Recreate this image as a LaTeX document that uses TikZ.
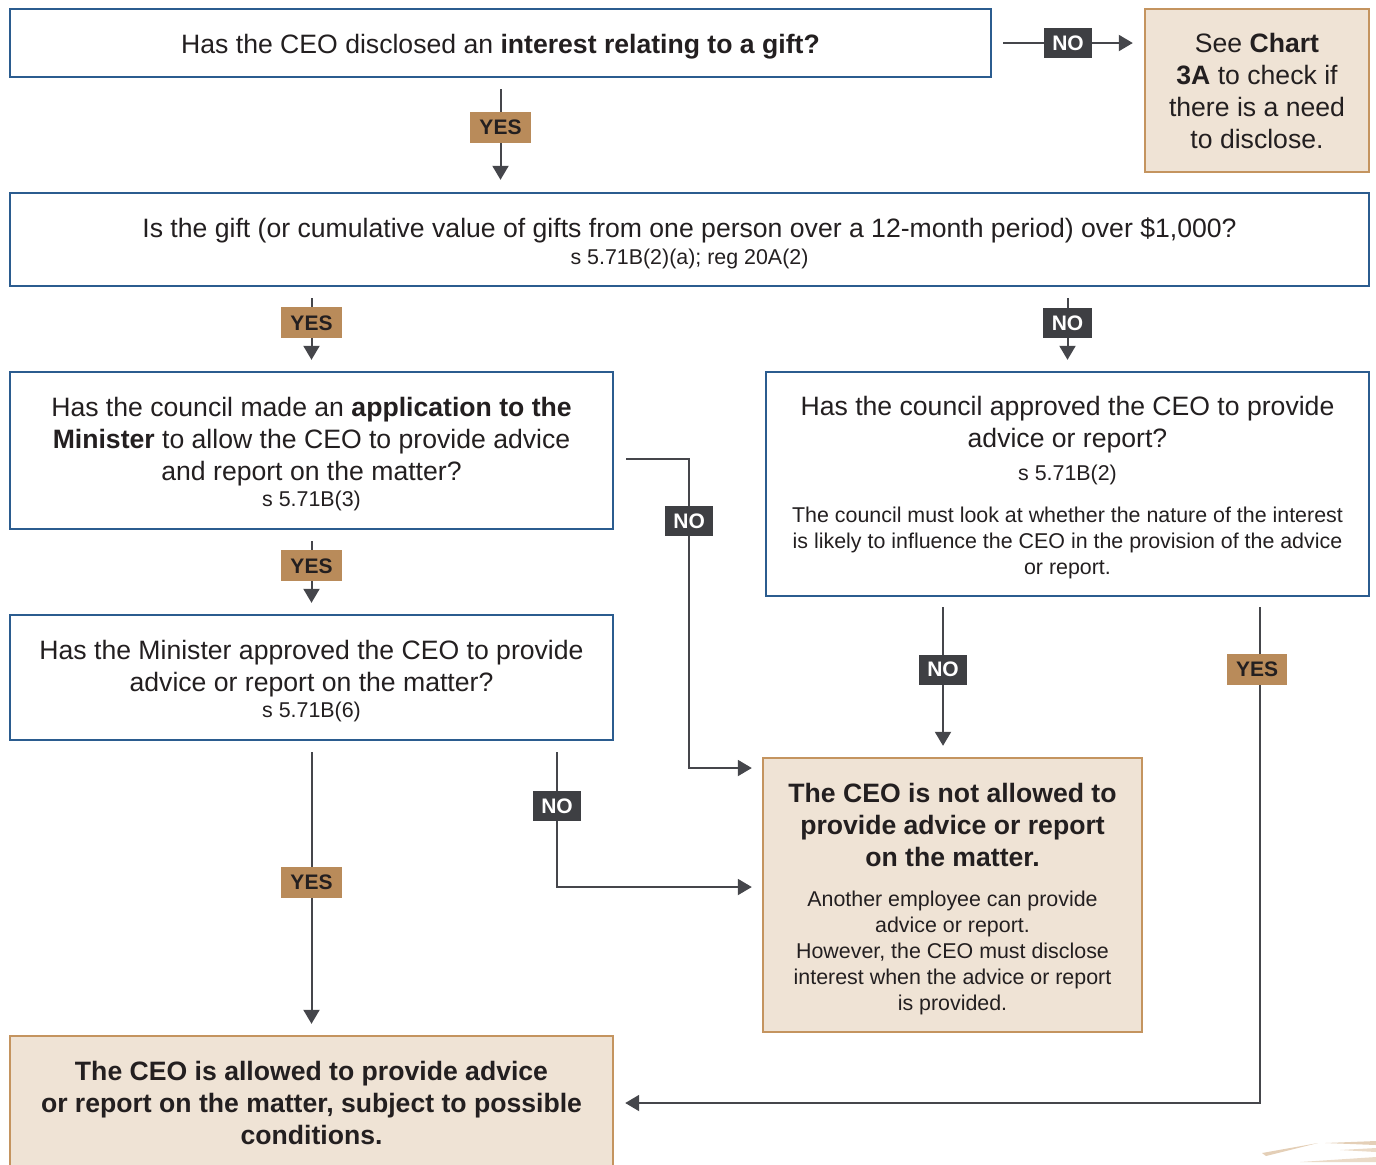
\documentclass[tikz,border=0pt]{standalone}
\usepackage{fontspec}
\setmainfont{Liberation Sans}
\usepackage{tikz}
\usetikzlibrary{arrows.meta,calc}

\definecolor{qblue}{HTML}{2B5C8F}
\definecolor{tanfill}{HTML}{EFE3D5}
\definecolor{tanline}{HTML}{C4945F}
\definecolor{yesfill}{HTML}{B98B5A}
\definecolor{nofill}{HTML}{3E3F43}
\definecolor{flowgray}{HTML}{45464B}
\definecolor{inktext}{HTML}{231F20}

\newcommand{\mainsz}{\fontsize{13.3}{16}\selectfont}
\newcommand{\notesz}{\fontsize{10.7}{13}\selectfont}
\newcommand{\topstrut}{\rule{0pt}{13.5pt}}

\begin{document}
\begin{tikzpicture}[x=0.5pt, y=-0.5pt,
    question/.style={draw=qblue, line width=1.2pt, fill=white, align=center, inner sep=0pt, text=inktext, font=\mainsz},
    outcome/.style={draw=tanline, line width=1.2pt, fill=tanfill, align=center, inner sep=0pt, text=inktext, font=\mainsz},
    flow/.style={draw=flowgray, line width=1pt, -{Triangle[width=8pt,length=7pt]}},
    yeslbl/.style={fill=yesfill, text=inktext, font=\fontsize{10.5}{12}\bfseries, inner xsep=4.5pt, inner ysep=0pt, minimum height=15.5pt},
    nolbl/.style={fill=nofill, text=white, font=\fontsize{10.5}{12}\bfseries, inner xsep=4.25pt, inner ysep=0pt, minimum height=15pt}]
    \useasboundingbox (0,0) rectangle (1376,1164);

    % questions
    \node[question, minimum width=490.5pt, minimum height=34pt] (q1) at (500.5,43) {\topstrut Has the CEO disclosed an \textbf{interest relating to a gift?}};
    \node[outcome, minimum width=112pt, minimum height=81.5pt] (chart) at (1257,90.5) {See \textbf{Chart}\\\textbf{3A} to check if\\there is a need\\to disclose.};
    \node[question, minimum width=679.5pt, minimum height=46.5pt] (q2) at (689.5,239.5) {\topstrut Is the gift (or cumulative value of gifts from one person over a 12-month period) over \$1,000?\\[-2.5pt]\notesz s 5.71B(2)(a); reg 20A(2)};
    \node[question, minimum width=301.5pt, minimum height=78.5pt] (q3) at (311.5,450.5) {\topstrut Has the council made an \textbf{application to the}\\\textbf{Minister} to allow the CEO to provide advice\\and report on the matter?\\[-3pt]\notesz s 5.71B(3)};
    \node[question, minimum width=301.5pt, minimum height=112pt] (q4) at (1067.5,484) {\topstrut Has the council approved the CEO to provide\\advice or report?\\[0.5pt]\notesz s 5.71B(2)\\[5pt]\notesz The council must look at whether the nature of the interest\\[-3pt]\notesz is likely to influence the CEO in the provision of the advice\\[-3pt]\notesz or report.};
    \node[question, minimum width=301.5pt, minimum height=62.5pt] (q5) at (311.5,677.5) {\topstrut Has the Minister approved the CEO to provide\\advice or report on the matter?\\[-3pt]\notesz s 5.71B(6)};

    % outcomes
    \node[outcome, minimum width=189.5pt, minimum height=137pt] (notok) at (952.5,895) {\topstrut\textbf{The CEO is not allowed to}\\\textbf{provide advice or report}\\\textbf{on the matter.}\\[4pt]\notesz Another employee can provide\\[-3pt]\notesz advice or report.\\[-3pt]\notesz However, the CEO must disclose\\[-3pt]\notesz interest when the advice or report\\[-3pt]\notesz is provided.};
    \node[outcome, minimum width=301.5pt, minimum height=67pt] (ok) at (311.5,1103) {\textbf{The CEO is allowed to provide advice}\\\textbf{or report on the matter, subject to possible}\\\textbf{conditions.}};

    % connectors
    \draw[flow] ([xshift=5.5pt]q1.east) -- node[nolbl]{NO} ([xshift=-5.5pt]chart.west |- q1.east);
    \draw[flow] ([yshift=-5.5pt]q1.south) -- node[yeslbl, pos=0.42]{YES} ($(q1.south |- q2.north)+(0,6pt)$);
    \draw[flow] ($(q3.north |- q2.south)+(0,-5.5pt)$) -- node[yeslbl, pos=0.4]{YES} ([yshift=5.5pt]q3.north);
    \draw[flow] ($(q4.north |- q2.south)+(0,-5.5pt)$) -- node[nolbl, pos=0.4]{NO} ([yshift=5.5pt]q4.north);
    \draw[flow] ([yshift=-5.5pt]q3.south) -- node[yeslbl, pos=0.4]{YES} ([yshift=5.5pt]q5.north);
    \draw[flow] ($(q3.east)+(6pt,-4.25pt)$) -- ++(31.5pt,0) |- node[nolbl, pos=0.1]{NO} ($(notok.west)+(-5pt,63.5pt)$);
    \draw[flow] ($(notok.north |- q4.south)+(-4.75pt,-5pt)$) -- node[nolbl, pos=0.45]{NO} ($(notok.north)+(-4.75pt,5.5pt)$);
    \draw[flow] ($(q4.south)+(96.25pt,-5pt)$) |- node[yeslbl, pos=0.063, xshift=-1.5pt]{YES} ([xshift=5.5pt]ok.east);
    \draw[flow] ([yshift=-5.5pt]q5.south) -- node[yeslbl, pos=0.48]{YES} ([yshift=5.5pt]ok.north);
    \draw[flow] ($(q5.south)+(122.75pt,-5.5pt)$) |- node[nolbl, pos=0.2]{NO} ($(notok.west)+(-5pt,4pt)$);

    % brush strokes in the corner
    \fill[tanline!45] (1262,1153) -- (1318,1143) -- (1266,1156) -- cycle;
    \fill[tanline!45] (1325,1143) -- (1376,1141) -- (1376,1145) -- cycle;
    \fill[tanline!35] (1340,1150) -- (1376,1148) -- (1376,1152) -- cycle;
    \fill[tanline!35] (1300,1162) -- (1376,1157) -- (1376,1162) -- cycle;
\end{tikzpicture}
\end{document}
